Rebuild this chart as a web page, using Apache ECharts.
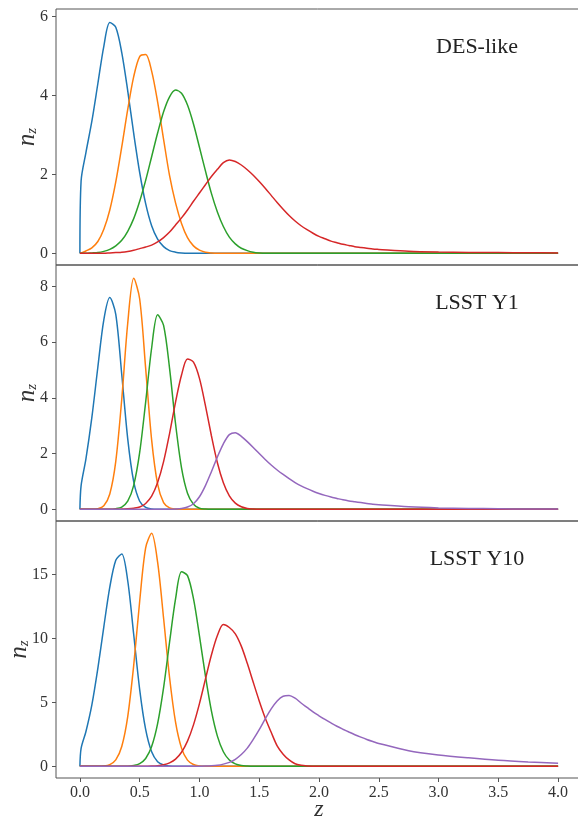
<!DOCTYPE html>
<html>
<head>
<meta charset="utf-8">
<script src="https://cdn.jsdelivr.net/npm/echarts@6/dist/echarts.min.js"></script>
<style>
  html, body { margin: 0; padding: 0; background: #fff; }
  #main { width: 578px; height: 825px; }
</style>
</head>
<body>
<div id="main"></div>
<script>
// redshift grid shared by every curve
const zGrid = [
  0, 0.01,
  0.05, 0.10, 0.15, 0.20, 0.25, 0.30, 0.35, 0.40, 0.45, 0.50,
  0.55, 0.60, 0.65, 0.70, 0.75, 0.80, 0.85, 0.90, 0.95, 1.00,
  1.05, 1.10, 1.15, 1.20, 1.25, 1.30, 1.35, 1.40, 1.45, 1.50,
  1.55, 1.60, 1.65, 1.70, 1.75, 1.80, 1.85, 1.90, 1.95, 2.00,
  2.05, 2.10, 2.15, 2.20, 2.25, 2.30, 2.35, 2.40, 2.45, 2.50,
  2.75, 3.00, 3.25, 3.50, 3.75, 4.00
];

// DES-like
const desBlue = [
  0, 1.84,
  2.55, 3.35, 4.30, 5.25, 5.85, 5.73, 5.09, 4.12, 3.04, 2.05,
  1.26, 0.70, 0.36, 0.17, 0.07, 0.03, 0.01, 0, 0, 0,
  0, 0, 0, 0, 0, 0, 0, 0, 0, 0,
  0, 0, 0, 0, 0, 0, 0, 0, 0, 0,
  0, 0, 0, 0, 0, 0, 0, 0, 0, 0,
  0, 0, 0, 0, 0, 0
];
const desOrange = [
  0, 0.01,
  0.06, 0.14, 0.30, 0.61, 1.10, 1.81, 2.70, 3.65, 4.48, 4.99,
  5.04, 4.62, 3.84, 2.89, 1.97, 1.28, 0.76, 0.40, 0.19, 0.08,
  0.03, 0.01, 0, 0, 0, 0, 0, 0, 0, 0,
  0, 0, 0, 0, 0, 0, 0, 0, 0, 0,
  0, 0, 0, 0, 0, 0, 0, 0, 0, 0,
  0, 0, 0, 0, 0, 0
];
const desGreen = [
  0, 0,
  0, 0.01, 0.02, 0.05, 0.10, 0.19, 0.33, 0.56, 0.88, 1.32,
  1.85, 2.45, 3.05, 3.59, 3.97, 4.14, 4.06, 3.76, 3.28, 2.69,
  2.09, 1.52, 1.05, 0.68, 0.41, 0.24, 0.13, 0.07, 0.03, 0.01,
  0, 0, 0, 0, 0, 0, 0, 0, 0, 0,
  0, 0, 0, 0, 0, 0, 0, 0, 0, 0,
  0, 0, 0, 0, 0, 0
];
const desRed = [
  0, 0,
  0, 0, 0, 0, 0.01, 0.02, 0.03, 0.05, 0.08, 0.12,
  0.16, 0.21, 0.29, 0.40, 0.54, 0.72, 0.90, 1.10, 1.32, 1.53,
  1.74, 1.95, 2.13, 2.30, 2.37, 2.33, 2.24, 2.12, 1.98, 1.82,
  1.65, 1.47, 1.29, 1.12, 0.96, 0.82, 0.70, 0.60, 0.51, 0.43,
  0.37, 0.31, 0.27, 0.23, 0.20, 0.17, 0.15, 0.13, 0.11, 0.10,
  0.055, 0.035, 0.025, 0.02, 0.015, 0.01
];

// LSST Y1
const y1Blue = [
  0, 0.85,
  1.80, 3.30, 5.10, 6.80, 7.60, 7.00, 4.84, 2.53, 0.99, 0.29,
  0.07, 0.01, 0, 0, 0, 0, 0, 0, 0, 0,
  0, 0, 0, 0, 0, 0, 0, 0, 0, 0,
  0, 0, 0, 0, 0, 0, 0, 0, 0, 0,
  0, 0, 0, 0, 0, 0, 0, 0, 0, 0,
  0, 0, 0, 0, 0, 0
];
const y1Orange = [
  0, 0,
  0, 0, 0.02, 0.13, 0.55, 1.72, 3.95, 6.68, 8.29, 7.55,
  5.06, 2.49, 0.90, 0.24, 0.05, 0.01, 0, 0, 0, 0,
  0, 0, 0, 0, 0, 0, 0, 0, 0, 0,
  0, 0, 0, 0, 0, 0, 0, 0, 0, 0,
  0, 0, 0, 0, 0, 0, 0, 0, 0, 0,
  0, 0, 0, 0, 0, 0
];
const y1Green = [
  0, 0,
  0, 0, 0, 0, 0, 0.02, 0.08, 0.29, 0.86, 2.04,
  3.85, 5.79, 6.98, 6.60, 5.06, 3.07, 1.49, 0.58, 0.18, 0.04,
  0.01, 0, 0, 0, 0, 0, 0, 0, 0, 0,
  0, 0, 0, 0, 0, 0, 0, 0, 0, 0,
  0, 0, 0, 0, 0, 0, 0, 0, 0, 0,
  0, 0, 0, 0, 0, 0
];
const y1Red = [
  0, 0,
  0, 0, 0, 0, 0, 0, 0.01, 0.02, 0.04, 0.08,
  0.21, 0.47, 0.96, 1.71, 2.72, 3.85, 4.82, 5.40, 5.28, 4.70,
  3.72, 2.64, 1.67, 0.95, 0.48, 0.22, 0.09, 0.03, 0.01, 0,
  0, 0, 0, 0, 0, 0, 0, 0, 0, 0,
  0, 0, 0, 0, 0, 0, 0, 0, 0, 0,
  0, 0, 0, 0, 0, 0
];
const y1Purple = [
  0, 0,
  0, 0, 0, 0, 0, 0, 0, 0, 0, 0,
  0, 0, 0, 0, 0, 0.01, 0.03, 0.08, 0.20, 0.45,
  0.85, 1.35, 1.88, 2.35, 2.68, 2.75, 2.62, 2.43, 2.22, 2.00,
  1.79, 1.59, 1.41, 1.25, 1.10, 0.96, 0.84, 0.74, 0.65, 0.57,
  0.50, 0.44, 0.39, 0.34, 0.30, 0.27, 0.24, 0.21, 0.18, 0.16,
  0.09, 0.05, 0.03, 0.02, 0.01, 0.01
];

// LSST Y10
const y10Blue = [
  0, 1.40,
  2.70, 4.80, 7.65, 10.90, 14.00, 16.10, 16.60, 14.50, 10.30, 6.00,
  2.88, 1.13, 0.36, 0.10, 0.02, 0, 0, 0, 0, 0,
  0, 0, 0, 0, 0, 0, 0, 0, 0, 0,
  0, 0, 0, 0, 0, 0, 0, 0, 0, 0,
  0, 0, 0, 0, 0, 0, 0, 0, 0, 0,
  0, 0, 0, 0, 0, 0
];
const y10Orange = [
  0, 0,
  0, 0, 0, 0.02, 0.13, 0.50, 1.55, 3.89, 7.89, 12.90,
  17.07, 18.21, 15.95, 11.57, 6.94, 3.45, 1.42, 0.48, 0.14, 0.03,
  0, 0, 0, 0, 0, 0, 0, 0, 0, 0,
  0, 0, 0, 0, 0, 0, 0, 0, 0, 0,
  0, 0, 0, 0, 0, 0, 0, 0, 0, 0,
  0, 0, 0, 0, 0, 0
];
const y10Green = [
  0, 0,
  0, 0, 0, 0, 0, 0, 0, 0, 0.06, 0.21,
  0.61, 1.54, 3.33, 6.15, 9.70, 13.08, 15.20, 14.90, 13.10, 10.20,
  7.06, 4.33, 2.36, 1.14, 0.49, 0.19, 0.06, 0.02, 0, 0,
  0, 0, 0, 0, 0, 0, 0, 0, 0, 0,
  0, 0, 0, 0, 0, 0, 0, 0, 0, 0,
  0, 0, 0, 0, 0, 0
];
const y10Red = [
  0, 0,
  0, 0, 0, 0, 0, 0, 0, 0, 0, 0,
  0.01, 0.02, 0.05, 0.12, 0.27, 0.56, 1.10, 1.97, 3.24, 4.90,
  6.81, 8.70, 10.22, 11.08, 10.85, 10.35, 9.39, 8.05, 6.57, 5.11,
  3.78, 2.66, 1.60, 0.95, 0.50, 0.20, 0.08, 0.03, 0.01, 0,
  0, 0, 0, 0, 0, 0, 0, 0, 0, 0,
  0, 0, 0, 0, 0, 0
];
const y10Purple = [
  0, 0,
  0, 0, 0, 0, 0, 0, 0, 0, 0, 0,
  0, 0, 0, 0, 0, 0, 0, 0, 0, 0.01,
  0.02, 0.04, 0.08, 0.17, 0.31, 0.55, 0.92, 1.42, 2.10, 2.86,
  3.70, 4.49, 5.11, 5.48, 5.53, 5.32, 4.95, 4.60, 4.25, 3.95,
  3.66, 3.39, 3.13, 2.90, 2.68, 2.47, 2.28, 2.10, 1.94, 1.79,
  1.22, 0.89, 0.66, 0.47, 0.34, 0.24
];

const panelNames = ['DES-like', 'LSST Y1', 'LSST Y10'];
const panelSeries = [
  [desBlue, desOrange, desGreen, desRed],
  [y1Blue, y1Orange, y1Green, y1Red, y1Purple],
  [y10Blue, y10Orange, y10Green, y10Red, y10Purple]
];
const yTicks = [[0, 2, 4, 6], [0, 2, 4, 6, 8], [0, 5, 10, 15]];
const xTicks = [0, 0.5, 1, 1.5, 2, 2.5, 3, 3.5, 4];

const colors = ['#1f77b4', '#ff7f0e', '#2ca02c', '#d62728', '#9467bd'];
const serif = '"Liberation Serif", "DejaVu Serif", serif';
const lineCol = '#555';
const textCol = '#333';

// panel layout (px) and value ranges
const tops = [9, 265, 521];
const heights = [256, 256, 257];
const nameGaps = [16, 16, 24];
const yRange = [[-0.295, 6.195], [-0.42, 8.77], [-0.913, 19.17]];

const chart = echarts.init(document.getElementById('main'));

const grids = [], xAxes = [], yAxes = [], series = [], texts = [];

panelNames.forEach((name, p) => {
  const last = p === panelNames.length - 1;
  grids.push({
    left: 56, top: tops[p], width: 526, height: heights[p],
    containLabel: false, outerBoundsMode: 'none',
    show: true, borderColor: lineCol, borderWidth: 1
  });
  xAxes.push({
    type: 'value', gridIndex: p, min: -0.2, max: 4.2,
    splitLine: { show: false },
    axisLine: { show: false, onZero: false },
    axisTick: { show: last, customValues: xTicks, length: 4, lineStyle: { color: lineCol } },
    axisLabel: {
      show: last, customValues: xTicks, margin: 7,
      color: textCol, fontFamily: serif, fontSize: 16,
      formatter: v => v.toFixed(1)
    },
    name: last ? 'z' : '',
    nameLocation: 'middle', nameGap: 20, nameMoveOverlap: false,
    nameTextStyle: { fontFamily: serif, fontStyle: 'italic', fontSize: 24, color: textCol }
  });
  yAxes.push({
    type: 'value', gridIndex: p, min: yRange[p][0], max: yRange[p][1],
    splitLine: { show: false },
    axisLine: { show: false, onZero: false },
    axisTick: { show: true, customValues: yTicks[p], length: 4, lineStyle: { color: lineCol } },
    axisLabel: {
      customValues: yTicks[p], margin: 8,
      color: textCol, fontFamily: serif, fontSize: 16
    },
    name: '{n|n}{s|z}',
    nameLocation: 'middle', nameRotate: 90, nameGap: nameGaps[p], nameMoveOverlap: false,
    nameTextStyle: {
      rich: {
        n: { fontFamily: serif, fontStyle: 'italic', fontSize: 25, color: textCol },
        s: { fontFamily: serif, fontStyle: 'italic', fontSize: 15, color: textCol, verticalAlign: 'bottom', padding: [10, 0, 0, 0] }
      }
    }
  });
  panelSeries[p].forEach((vals, i) => {
    series.push({
      type: 'line', xAxisIndex: p, yAxisIndex: p,
      data: zGrid.map((z, k) => [z, vals[k]]),
      showSymbol: false, smooth: 0.3,
      lineStyle: { color: colors[i], width: 1.5 },
      itemStyle: { color: colors[i] },
      animation: false
    });
  });
  texts.push({
    type: 'text', x: 477, y: tops[p] + 38,
    style: {
      text: name, fill: '#222', font: '22px ' + serif,
      textAlign: 'center', textVerticalAlign: 'middle',
      align: 'center', verticalAlign: 'middle'
    }
  });
});

chart.setOption({
  backgroundColor: '#fff',
  animation: false,
  grid: grids,
  xAxis: xAxes,
  yAxis: yAxes,
  series: series,
  graphic: texts
});
</script>
</body>
</html>
